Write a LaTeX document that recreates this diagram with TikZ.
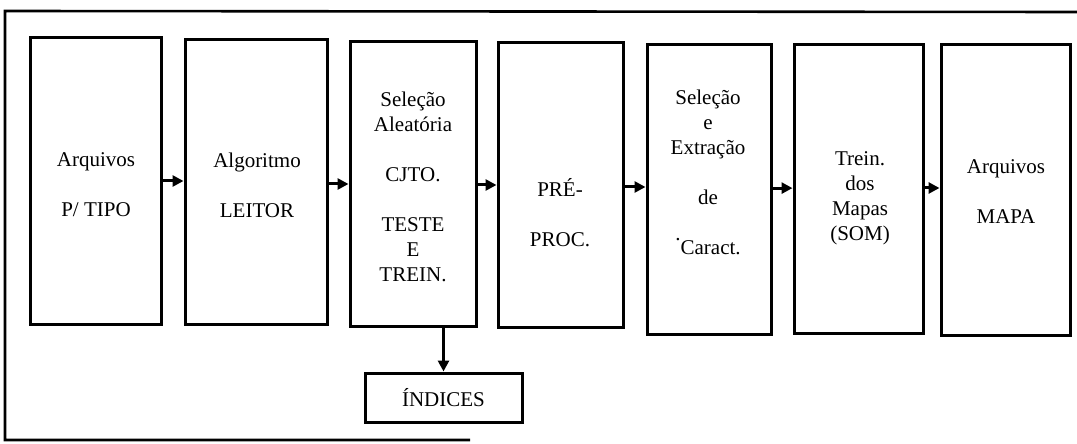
\documentclass[tikz,border=0pt]{standalone}
\usepackage{fontspec}
\setmainfont{Liberation Serif}
\usetikzlibrary{arrows.meta}
\begin{document}
\begin{tikzpicture}[x=0.5pt,y=-0.5pt,
  stage/.style={draw=black,line width=1.5pt,inner sep=0pt,rectangle},
  lbl/.style={align=center,inner sep=0pt,font=\fontsize{10.5}{12.5}\selectfont},
  arr/.style={line width=1.5pt,-{Triangle[length=5.5pt,width=5.5pt]}},
  frame/.style={line width=1.3pt}]
\useasboundingbox (0,0) rectangle (1077,444);
% outer frame (open on the right)
\coordinate (f1) at (1077,12);
\coordinate (f2) at (5,11);
\coordinate (f3) at (5,440);
\coordinate (f4) at (470,440);
\draw[frame] (f1) -- (f2) -- (f3) -- (f4);
% stages
\node[stage,minimum width=65.5pt,minimum height=143pt] (b1) at (95.5,181) {};
\node[stage,minimum width=71pt,minimum height=142pt] (b2) at (256,182) {};
\node[stage,minimum width=63pt,minimum height=142pt] (b3) at (413,184) {};
\node[stage,minimum width=62.5pt,minimum height=142pt] (b4) at (560.5,185) {};
\node[stage,minimum width=62pt,minimum height=144.5pt] (b5) at (709,189.5) {};
\node[stage,minimum width=64.5pt,minimum height=144pt] (b6) at (858.5,189) {};
\node[stage,minimum width=64.5pt,minimum height=145pt] (b7) at (1005.5,190) {};
\node[stage,minimum width=78.5pt,minimum height=24.5pt] (idx) at (443.5,397.5) {};
% texts
\node[lbl] (t1) at (96,185) {Arquivos\\[12.5pt]P/ TIPO};
\node[lbl] (t2) at (257,185) {Algoritmo\\[12.5pt]LEITOR};
\node[lbl] (t3) at (413,187) {Seleção\\Aleatória\\[12.5pt]CJTO.\\[12.5pt]TESTE\\E\\TREIN.};
\node[lbl] (t4) at (560,212.5) {PRÉ-\\[12.5pt]PROC.};
\node[lbl] (t5) at (708,172) {Seleção\\e\\Extração\\[12.5pt]de\\[12.5pt]\raisebox{7pt}{.}Caract.};
\node[lbl] (t6) at (860,198.5) {Trein.\\dos\\Mapas\\(SOM)};
\node[lbl] (t7) at (1006,192) {Arquivos\\[12.5pt]MAPA};
\node[lbl] (t8) at (443.5,398) {ÍNDICES};
% connectors
\draw[arr] (b1.east) -- (b1.east -| b2.west);
\draw[arr] ([yshift=-1pt]b2.east) -- ([yshift=-1pt]b2.east -| b3.west);
\draw[arr] ([yshift=-0.5pt]b3.east) -- ([yshift=-0.5pt]b3.east -| b4.west);
\draw[arr] ([yshift=-1pt]b4.east) -- ([yshift=-1pt]b4.east -| b5.west);
\draw[arr] ([yshift=0.7pt]b5.east) -- ([yshift=0.7pt]b5.east -| b6.west);
\draw[arr] ([yshift=0.5pt]b6.east) -- ([yshift=0.5pt]b6.east -| b7.west);
\draw[arr] (b3.south -| idx.north) -- (idx.north);
\end{tikzpicture}
\end{document}
